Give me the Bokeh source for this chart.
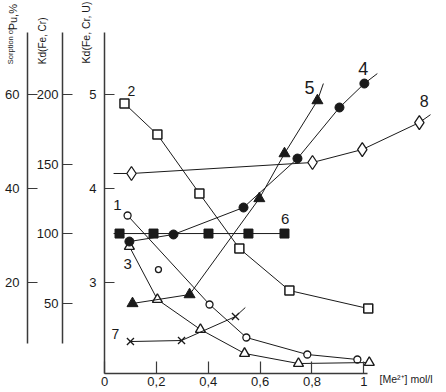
from bokeh.plotting import figure
from bokeh.models import Range1d, LinearAxis, FixedTicker, Label
from bokeh.embed import file_html
from bokeh.resources import INLINE

# ---------------- data (x: [Me2+] mol/l, y: Kd(Fe,Cr,U) axis units) ----------------
x_c1 = [0.089, 0.405, 0.547, 0.782, 0.975]
y_c1 = [3.713, 2.766, 2.415, 2.234, 2.181]
x_c1_extra = [0.208]
y_c1_extra = [3.138]

x_c2 = [0.077, 0.204, 0.366, 0.520, 0.713, 1.017]
y_c2 = [4.904, 4.574, 3.947, 3.362, 2.915, 2.723]

x_c3 = [0.096, 0.204, 0.370, 0.540, 0.748, 1.021]
y_c3 = [3.383, 2.819, 2.500, 2.245, 2.138, 2.149]

x_c4 = [0.096, 0.266, 0.536, 0.744, 0.906, 1.002]
y_c4 = [3.436, 3.511, 3.798, 4.319, 4.862, 5.117]
x_c4_line_end = [1.052]
y_c4_line_end = [5.223]

x_c5 = [0.108, 0.328, 0.597, 0.694, 0.821]
y_c5 = [2.777, 2.872, 3.894, 4.372, 4.936]
x_c5_line_end = [0.844]
y_c5_line_end = [5.117]

x_c6 = [0.058, 0.189, 0.401, 0.555, 0.694]
y_c6 = [3.521, 3.521, 3.521, 3.521, 3.521]
x_c6_line_start = [0.035]

x_c7 = [0.100, 0.297, 0.505]
y_c7 = [2.372, 2.383, 2.638]
x_c7_line_end = [0.543]
y_c7_line_end = [2.734]

x_c8 = [0.104, 0.802, 0.994, 1.214]
y_c8 = [4.160, 4.277, 4.415, 4.702]
x_c8_line_start = [0.035]
x_c8_line_end = [1.295]
y_c8_line_end = [4.860]

x_ticks = [0, 0.2, 0.4, 0.6, 0.8, 1.0]
x_tick_labels = ["0", "0,2", "0,4", "0,6", "0,8", "1"]
kd_u_ticks = [3, 4, 5]
kd_fecr_ticks = [50, 100, 150, 200]
pu_ticks = [20, 40, 60]

curve_names = ["1", "2", "3", "4", "5", "6", "7", "8"]

# ---------------- figure ----------------
V0, V1 = 2.032, 5.66        # visible range of the Kd(Fe,Cr,U) scale
FONT = "Liberation Sans"
INK = "#1a1a1a"
AXC = "#3a3a3a"
NB = "\u00a0"
HAS_ALIGN = "axis_label_align" in LinearAxis.properties()


def fecr(v):
    return 200 + 67.6 * (v - 5)


def pu(v):
    return 20 * (v - 2)


p = figure(width=446, height=392, output_backend="svg", toolbar_location=None,
           x_range=Range1d(0, 1.257), y_range=Range1d(V0, V1),
           min_border_left=104, min_border_right=16, min_border_top=32, min_border_bottom=19)
p.outline_line_color = None
p.grid.visible = False
p.xaxis.visible = False
p.yaxis.visible = False

p.extra_y_ranges = {
    "fecr": Range1d(fecr(V0), fecr(V1)),
    "pu": Range1d(pu(V0), pu(V1)),
}


def style(ax, ticks, standoff, font="13px"):
    ax.ticker = FixedTicker(ticks=ticks)
    ax.major_tick_in = 10
    ax.major_tick_out = 0
    ax.minor_tick_line_color = None
    ax.axis_line_color = AXC
    ax.axis_line_width = 1.5
    ax.major_tick_line_color = AXC
    ax.major_tick_line_width = 1.2
    ax.major_label_standoff = standoff
    ax.major_label_text_font = FONT
    ax.major_label_text_font_size = font
    ax.major_label_text_color = INK


def title(ax, text, size, standoff, alpha=1.0, align="end"):
    ax.axis_label = text
    ax.axis_label_text_font = FONT
    ax.axis_label_text_font_size = size
    ax.axis_label_text_font_style = "normal"
    ax.axis_label_text_color = INK
    ax.axis_label_text_alpha = alpha
    ax.axis_label_standoff = standoff
    if HAS_ALIGN:
        ax.axis_label_align = align


def spacer(size_px, text=".", font="10px", alpha=0.0, height=11):
    sp = LinearAxis(ticker=FixedTicker(ticks=[]), axis_line_color=None,
                    major_tick_line_color=None, minor_tick_line_color=None,
                    major_tick_out=0, minor_tick_out=0, major_tick_in=0, minor_tick_in=0)
    title(sp, text, font, size_px - height, alpha)
    return sp


# x axis (title sits on the tick-label row, right of the axis end)
xax = LinearAxis(bounds=(0, 1.015))
style(xax, x_ticks, 3)
xax.major_tick_in = 12
xax.major_label_overrides = {t: l for t, l in zip(x_ticks, x_tick_labels)}
title(xax, NB * 95 + "[Me²⁺] mol/l", "10.5px", -16, align="center")
p.add_layout(xax, "below")

# inner y axis: Kd(Fe, Cr, U)
ax_u = LinearAxis(bounds=(V0, V1))
style(ax_u, kd_u_ticks, 8)
title(ax_u, "Kd(Fe, Cr, U)", "10.5px", -6)
p.add_layout(ax_u, "left")
p.add_layout(spacer(15), "left")

# middle y axis: Kd(Fe, Cr)
ax_fecr = LinearAxis(y_range_name="fecr", bounds=(21, fecr(V1)))
style(ax_fecr, kd_fecr_ticks, 4)
title(ax_fecr, "Kd(Fe, Cr)" + NB * 6, "10px", -14)
p.add_layout(ax_fecr, "left")
p.add_layout(spacer(6), "left")

# outer y axis: Sorption of Pu, %
ax_pu = LinearAxis(y_range_name="pu", bounds=(7, pu(V1)))
style(ax_pu, pu_ticks, 8)
title(ax_pu, NB * 10 + "Pu,%", "11px", -17)
p.add_layout(ax_pu, "left")
p.add_layout(spacer(-1, "Sorption of" + NB * 13, "7.5px", 1.0, 9), "left")

# ---------------- curves ----------------
LW = 1.0
p.line(x_c1, y_c1, line_color=INK, line_width=LW)
p.scatter(x_c1, y_c1, marker="circle", size=7, fill_color="white", line_color=INK, line_width=1.3)
p.scatter(x_c1_extra, y_c1_extra, marker="circle", size=6, fill_color="white", line_color=INK, line_width=1.3)

p.line(x_c2, y_c2, line_color=INK, line_width=LW)
p.scatter(x_c2, y_c2, marker="square", size=9, fill_color="white", line_color=INK, line_width=1.5)

p.line(x_c3, y_c3, line_color=INK, line_width=LW)
p.scatter(x_c3, y_c3, marker="triangle", size=10, fill_color="white", line_color=INK, line_width=1.4)

p.line(x_c4 + x_c4_line_end, y_c4 + y_c4_line_end, line_color=INK, line_width=LW)
p.scatter(x_c4, y_c4, marker="circle", size=9, fill_color=INK, line_color=INK)

p.line(x_c5 + x_c5_line_end, y_c5 + y_c5_line_end, line_color=INK, line_width=LW)
p.scatter(x_c5, y_c5, marker="triangle", size=11, fill_color=INK, line_color=INK)

p.line(x_c6_line_start + x_c6, [y_c6[0]] + y_c6, line_color=INK, line_width=LW)
p.scatter(x_c6, y_c6, marker="square", size=9, fill_color=INK, line_color=INK)

p.line(x_c7 + x_c7_line_end, y_c7 + y_c7_line_end, line_color=INK, line_width=LW)
p.scatter(x_c7, y_c7, marker="x", size=10, line_color=INK, line_width=1.3)

p.line(x_c8_line_start + x_c8 + x_c8_line_end, [y_c8[0]] + y_c8 + y_c8_line_end, line_color=INK, line_width=LW)
p.scatter(x_c8, y_c8, marker="diamond", size=14, fill_color="white", line_color=INK, line_width=1.3)

# curve numbers
lab_pos = [(0.050, 3.83, 15), (0.104, 5.04, 14), (0.089, 3.20, 15), (0.998, 5.28, 18),
           (0.790, 5.07, 18), (0.697, 3.68, 15), (0.042, 2.45, 14), (1.233, 4.93, 16)]
for name, (lx, ly, fs) in zip(curve_names, lab_pos):
    p.add_layout(Label(x=lx, y=ly, text=name, text_align="center", text_baseline="middle",
                       text_font=FONT, text_font_size=f"{fs}px", text_color=INK))

open("out.html", "w").write(file_html(p, INLINE))
